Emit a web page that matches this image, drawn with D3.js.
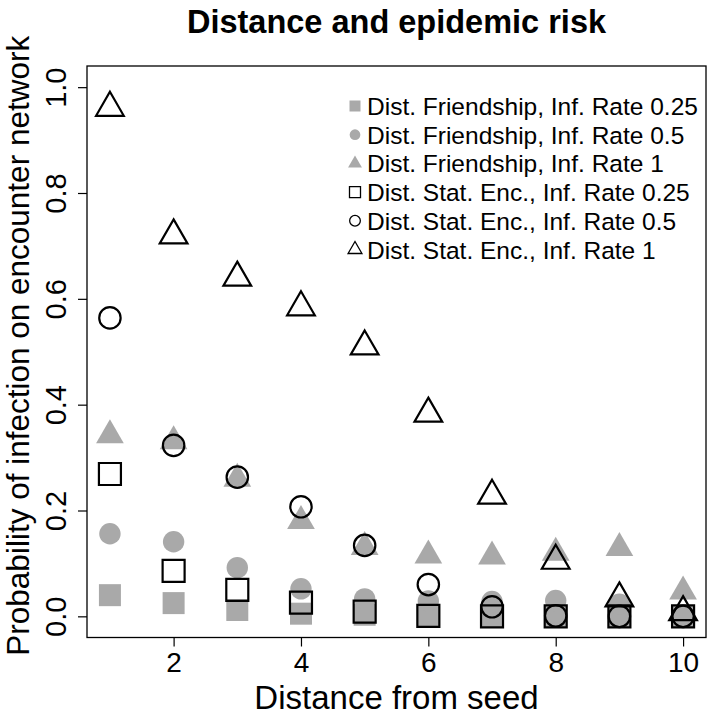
<!DOCTYPE html>
<html><head><meta charset="utf-8">
<script src="https://cdn.jsdelivr.net/npm/d3@7"></script>
<style>body{margin:0;background:#fff}svg{display:block}</style>
</head><body><svg id="c" width="711" height="716"></svg>
<script>
// ---- data ----
const distances = [1, 2, 3, 4, 5, 6, 7, 8, 9, 10];
const friendRate025 = [0.040, 0.025, 0.012, 0.005, 0.003, 0.000, 0.000, 0.000, 0.000, 0.000];
const friendRate05  = [0.156, 0.141, 0.092, 0.052, 0.033, 0.029, 0.028, 0.030, 0.023, 0.002];
const friendRate1   = [0.342, 0.331, 0.260, 0.180, 0.131, 0.115, 0.113, 0.120, 0.129, 0.047];
const statRate025   = [0.269, 0.086, 0.050, 0.026, 0.009, 0.001, 0.000, 0.000, 0.000, 0.000];
const statRate05    = [0.564, 0.323, 0.263, 0.207, 0.134, 0.060, 0.018, 0.001, 0.000, 0.000];
const statRate1     = [0.961, 0.720, 0.640, 0.584, 0.510, 0.383, 0.228, 0.105, 0.034, 0.008];
const seriesLabels = [
  "Dist. Friendship, Inf. Rate 0.25",
  "Dist. Friendship, Inf. Rate 0.5",
  "Dist. Friendship, Inf. Rate 1",
  "Dist. Stat. Enc., Inf. Rate 0.25",
  "Dist. Stat. Enc., Inf. Rate 0.5",
  "Dist. Stat. Enc., Inf. Rate 1"
];
const xTicks = [2, 4, 6, 8, 10];
const yTicks = [0, 0.2, 0.4, 0.6, 0.8, 1.0];
const titleText = "Distance and epidemic risk";
const xTitle = "Distance from seed";
const yTitle = "Probability of infection on encounter network";

// ---- series styling ----
const GRAY = "#a9a9a9";
const series = [
  {values: friendRate025, shape: "square",   filled: true},
  {values: friendRate05,  shape: "circle",   filled: true},
  {values: friendRate1,   shape: "triangle", filled: true},
  {values: statRate025,   shape: "square",   filled: false},
  {values: statRate05,    shape: "circle",   filled: false},
  {values: statRate1,     shape: "triangle", filled: false}
].map((s, i) => ({...s, label: seriesLabels[i]}));

const FONT = "'Liberation Sans', Arial, Helvetica, sans-serif";
const svg = d3.select("#c");
const L = 87, R = 706, T = 66, B = 637.5;

const x = d3.scaleLinear().domain([0.64, 10.36]).range([L, R]);
const y = d3.scaleLinear().domain([-0.04, 1.04]).range([B, T]);

function shapePath(shape, s) {
  if (shape === "square") {
    const h = 11 * s;
    return `M${-h},${-h}H${h}V${h}H${-h}Z`;
  }
  if (shape === "circle") {
    const r = 10.7 * s;
    return `M${r},0A${r},${r} 0 1,1 ${-r},0A${r},${r} 0 1,1 ${r},0Z`;
  }
  const r = 16 * s, xc = r * 0.866, yc = r * 0.5;
  return `M0,${-r}L${xc},${yc}L${-xc},${yc}Z`;
}
function styleMark(sel, s, sw) {
  sel.attr("fill", s.filled ? GRAY : "none")
     .attr("stroke", s.filled ? "none" : "#000")
     .attr("stroke-width", sw);
}

// frame
svg.append("rect").attr("x", L).attr("y", T).attr("width", R - L).attr("height", B - T)
  .attr("fill", "none").attr("stroke", "#000").attr("stroke-width", 1.3);

// axes
const xAxis = d3.axisBottom(x).tickValues(xTicks).tickSize(9).tickFormat(d3.format("d"));
const gx = svg.append("g").attr("transform", `translate(0,${B})`).call(xAxis);
gx.select(".domain").remove();
gx.selectAll("line").attr("stroke", "#000").attr("stroke-width", 1.2);
gx.selectAll("text").attr("font-family", FONT).attr("font-size", 28).attr("fill", "#000")
  .attr("dy", null).attr("y", 34);

const yAxis = d3.axisLeft(y).tickValues(yTicks).tickSize(9).tickFormat(d3.format(".1f"));
const gy = svg.append("g").attr("transform", `translate(${L},0)`).call(yAxis);
gy.select(".domain").remove();
gy.selectAll("line").attr("stroke", "#000").attr("stroke-width", 1.2);
gy.selectAll("text").attr("font-family", FONT).attr("font-size", 29).attr("fill", "#000")
  .attr("text-anchor", "middle").attr("dy", null).attr("x", null)
  .attr("transform", "translate(-21,0) rotate(-90)");

// titles
svg.append("text").attr("x", (L + R) / 2).attr("y", 33).attr("text-anchor", "middle")
  .attr("font-family", FONT).attr("font-weight", "bold").attr("font-size", 32.5).text(titleText);
svg.append("text").attr("x", (L + R) / 2).attr("y", 709).attr("text-anchor", "middle")
  .attr("font-family", FONT).attr("font-size", 33).text(xTitle);
svg.append("text").attr("transform", `translate(29,${(T + B) / 2 - 6}) rotate(-90)`).attr("text-anchor", "middle")
  .attr("font-family", FONT).attr("font-size", 31.5).text(yTitle);

// points
const plot = svg.append("g");
series.forEach(s => {
  plot.append("g").selectAll("path").data(distances.map((d, i) => [d, s.values[i]])).join("path")
    .attr("transform", d => `translate(${x(d[0])},${y(d[1])})`)
    .attr("d", shapePath(s.shape, 1))
    .call(sel => styleMark(sel, s, 2.2));
});

// legend
const leg = svg.append("g");
series.forEach((s, i) => {
  const by = 115 + i * 28.7;
  leg.append("path").attr("transform", `translate(355,${by - 9})`).attr("d", shapePath(s.shape, 0.5))
    .call(sel => styleMark(sel, s, 1.3));
  leg.append("text").attr("x", 367).attr("y", by).attr("font-family", FONT).attr("font-size", 24.5)
    .attr("fill", "#000").text(s.label);
});
</script></body></html>
